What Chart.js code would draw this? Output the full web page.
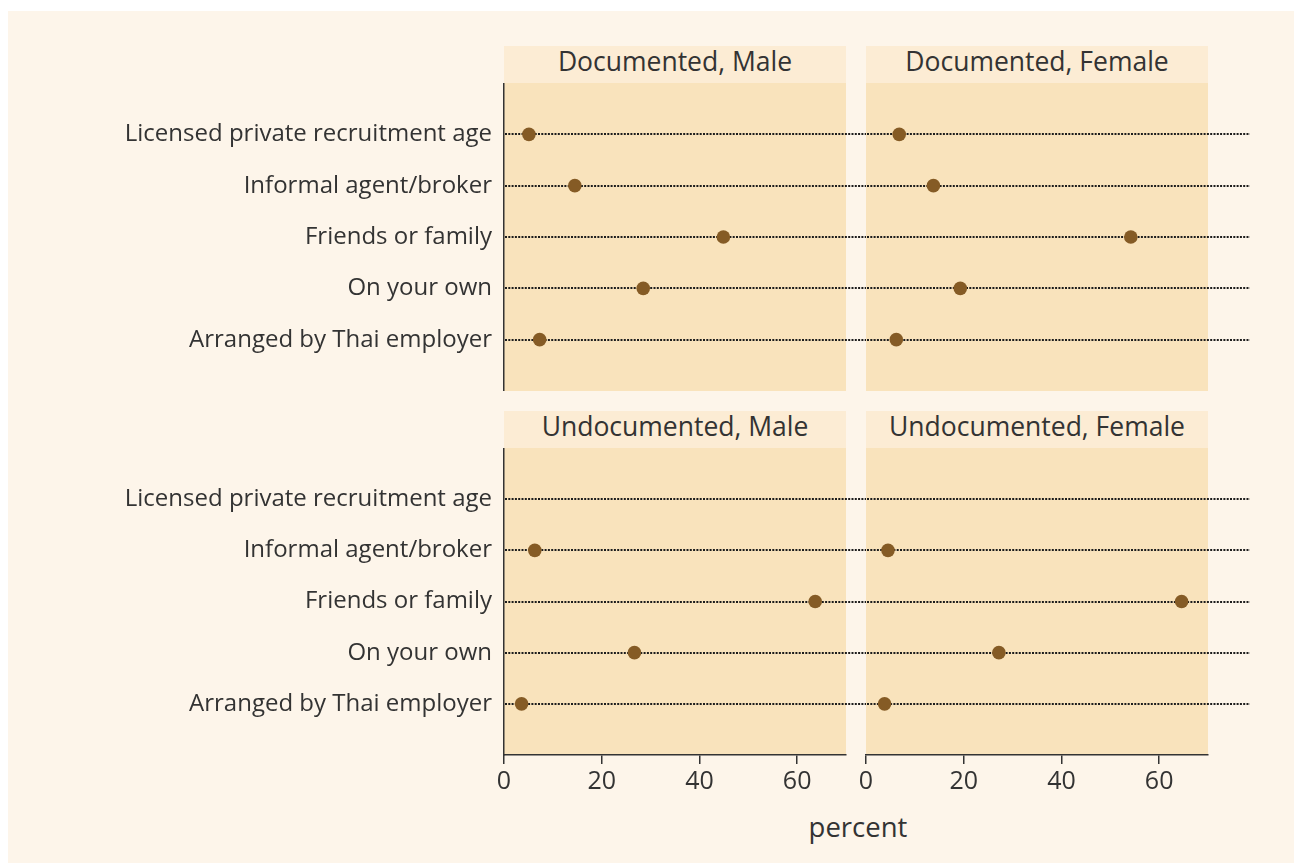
<!DOCTYPE html>
<html>
<head>
<meta charset="utf-8">
<script src="https://cdn.jsdelivr.net/npm/chart.js@4.4.0/dist/chart.umd.min.js"></script>
<style>
  body { margin: 0; background: #ffffff; width: 1294px; height: 863px; overflow: hidden; position: relative; }
  #page { position: absolute; left: 8px; top: 11px; width: 1286px; height: 852px; background: #fdf5ea; }
  canvas, .strip, .xtitle { position: absolute; }
  .strip { background: #fcecd4; color: #333; font: 26.5px "Open Sans"; text-align: center; height: 37px; line-height: 31px; width: 342px; overflow: hidden; }
  .xtitle { color: #333; font: 27.5px "Open Sans"; left: 758px; width: 200px; top: 808px; text-align: center; }
</style>
</head>
<body>
<div id="page"></div>

<div class="strip" style="left:504px;top:46px">Documented, Male</div>
<div class="strip" style="left:866px;top:46px">Documented, Female</div>
<div class="strip" style="left:504px;top:411px">Undocumented, Male</div>
<div class="strip" style="left:866px;top:411px">Undocumented, Female</div>

<canvas id="docMale" width="866" height="308" style="left:0;top:83px"></canvas>
<canvas id="docFemale" width="404" height="308" style="left:846px;top:83px"></canvas>
<canvas id="undocMale" width="866" height="360" style="left:0;top:448px"></canvas>
<canvas id="undocFemale" width="404" height="360" style="left:846px;top:448px"></canvas>

<div class="xtitle">percent</div>

<script>
// recruitment channel, share of migrants (percent)
const categories = [
    'Licensed private recruitment age',
    'Informal agent/broker',
    'Friends or family',
    'On your own',
    'Arranged by Thai employer'
];
const docMale     = [5.1, 14.5, 44.9, 28.5, 7.3];
const docFemale   = [6.8, 13.8, 54.2, 19.3, 6.2];
const undocMale   = [null, 6.3, 63.7, 26.7, 3.6];
const undocFemale = [null, 4.5, 64.6, 27.2, 3.8];
const xTicks = [0, 20, 40, 60];
const xMax = 70;

const plotBg = '#f9e3bc';
const ink = '#333333';
const dotColor = '#855b25';

Chart.defaults.font.family = "'Open Sans'";
Chart.defaults.font.size = 24;
Chart.defaults.color = ink;

const panelBg = {
    id: 'panelBg',
    beforeDraw(chart) {
        const a = chart.chartArea, ctx = chart.ctx;
        ctx.save();
        ctx.fillStyle = plotBg;
        ctx.fillRect(a.left, a.top, a.right - a.left, a.bottom - a.top);
        ctx.restore();
    }
};

// dotted guide lines, running on past the panel like the original
const guideLines = {
    id: 'guideLines',
    beforeDatasetsDraw(chart) {
        const ctx = chart.ctx, a = chart.chartArea, y = chart.scales.y;
        ctx.save();
        ctx.strokeStyle = '#1c1c1c';
        ctx.lineWidth = 2.2;
        ctx.setLineDash([2, 1.3]);
        categories.forEach((c, i) => {
            const py = Math.round(y.getPixelForValue(i + 1));
            ctx.beginPath();
            ctx.moveTo(a.left + 1, py);
            ctx.lineTo(chart.width, py);
            ctx.stroke();
        });
        ctx.restore();
    }
};

function drawPanel(canvasId, values, showY, showX, padLeft, padRight) {
    const ctx = document.getElementById(canvasId);
    let points = [];
    for (let i = 0; i < values.length; i++)
        if (values[i] !== null) points.push({x: values[i], y: i + 1});

    new Chart(ctx, {
        type: 'scatter',
        data: {
            datasets: [{
                    data: points,
                    pointRadius: 6.8,
                    pointHoverRadius: 6.8,
                    backgroundColor: dotColor,
                    borderWidth: 0
                }]
        },
        options: {
            responsive: false,
            animation: false,
            events: [],
            layout: {autoPadding: false, padding: {left: padLeft, right: padRight, top: 0, bottom: 0}},
            plugins: {legend: {display: false}, tooltip: {enabled: false}},
            scales: {
                x: {
                    type: 'linear',
                    display: showX,
                    min: 0,
                    max: xMax,
                    afterBuildTicks: (s) => { s.ticks = xTicks.map(v => ({value: v})); },
                    afterFit: (s) => {
                        s.height = showX ? 53 : 0;
                        s.paddingLeft = 0;
                        s.paddingRight = 0;
                    },
                    border: {display: true, color: ink, width: 1.5},
                    grid: {display: true, drawOnChartArea: false, drawTicks: true, tickLength: 9, color: ink, lineWidth: 1.5},
                    ticks: {padding: 3, color: ink, maxRotation: 0, font: {size: 25}}
                },
                y: {
                    type: 'linear',
                    display: showY,
                    reverse: true,
                    min: 0,
                    max: categories.length + 1,
                    afterBuildTicks: (s) => { s.ticks = categories.map((c, i) => ({value: i + 1})); },
                    afterFit: (s) => {
                        s.width = showY ? 504 : 0;
                        s.paddingTop = 0;
                        s.paddingBottom = 0;
                    },
                    border: {display: true, color: ink, width: 1.5},
                    grid: {display: false, drawTicks: false, tickLength: 0},
                    ticks: {
                        padding: 12,
                        color: ink,
                        callback: (v) => categories[v - 1] || ''
                    }
                }
            }
        },
        plugins: [panelBg, guideLines]
    });
}

drawPanel('docMale', docMale, true, false, 0, 20);
drawPanel('docFemale', docFemale, false, false, 20, 42);
drawPanel('undocMale', undocMale, true, true, 0, 20);
drawPanel('undocFemale', undocFemale, false, true, 20, 42);
</script>
</body>
</html>
